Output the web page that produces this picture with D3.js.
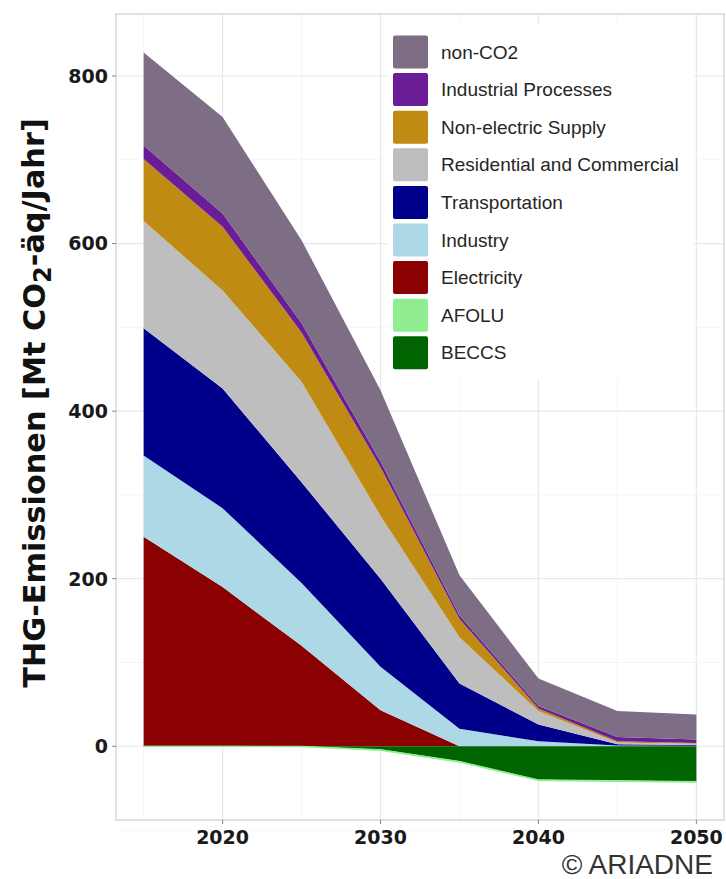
<!DOCTYPE html>
<html lang="de">
<head>
<meta charset="UTF-8">
<title>THG-Emissionen</title>
<script src="https://cdn.jsdelivr.net/npm/d3@7"></script>
<style>
  body { margin: 0; background: #fff; }
  .tick-label { font-family: 'DejaVu Sans', Verdana, sans-serif; font-weight: bold; font-size: 19px; fill: #1a1a1a; }
  .legend text { font-family: 'Liberation Sans', Arial, sans-serif; font-size: 19px; fill: #262626; }
</style>
</head>
<body>
<script>
const years = [2015, 2020, 2025, 2030, 2035, 2040, 2045, 2050];

// Mt CO2-eq per year
const electricity         = [250, 190, 120, 43, 0, 0, 0, 0];
const industry            = [97, 94, 75, 52, 21, 6, 1, 0.5];
const transportation      = [152, 143, 120, 105, 54, 20, 1.5, 1];
const residential         = [128, 117, 120, 75, 55, 16, 2, 1.5];
const nonElectricSupply   = [74, 76, 59, 58, 22, 3, 1.5, 1];
const industrialProcesses = [16, 16, 11, 7, 4, 3, 5, 4];
const nonCO2              = [111, 115, 99, 85, 48, 33, 31, 30];
const afolu               = [0, 0, -0.5, -1, -1, -1, -1, -1];
const beccs               = [0, 0, 0, -4, -18, -40, -41, -42];

const legendLabels = ["non-CO2", "Industrial Processes", "Non-electric Supply",
  "Residential and Commercial", "Transportation", "Industry", "Electricity", "AFOLU", "BECCS"];
const yTicks = [0, 200, 400, 600, 800];
const xTicks = [2020, 2030, 2040, 2050];

const colors = {
  "non-CO2": "#7d6e86",
  "Industrial Processes": "#6a1d97",
  "Non-electric Supply": "#c08b12",
  "Residential and Commercial": "#bebebe",
  "Transportation": "#00008b",
  "Industry": "#add8e6",
  "Electricity": "#8b0000",
  "AFOLU": "#90ee90",
  "BECCS": "#006400"
};

const seriesValues = {
  "Electricity": electricity,
  "Industry": industry,
  "Transportation": transportation,
  "Residential and Commercial": residential,
  "Non-electric Supply": nonElectricSupply,
  "Industrial Processes": industrialProcesses,
  "non-CO2": nonCO2,
  "BECCS": beccs,
  "AFOLU": afolu
};
// bottom-up stacking order (negatives: first key sits next to zero)
const stackKeys = ["Electricity", "Industry", "Transportation", "Residential and Commercial",
  "Non-electric Supply", "Industrial Processes", "non-CO2", "BECCS", "AFOLU"];

const table = years.map((yr, i) => {
  const row = {year: yr};
  stackKeys.forEach(k => row[k] = seriesValues[k][i]);
  return row;
});

const width = 726, height = 879;
const panel = {left: 116, right: 724, top: 14, bottom: 820};

const svg = d3.select("body").append("svg")
  .attr("width", width).attr("height", height);

svg.append("rect").attr("width", width).attr("height", height).attr("fill", "#fff");

const x = d3.scaleLinear().domain([2013.25, 2051.75]).range([panel.left, panel.right]);
const y = d3.scaleLinear().domain([-88, 874]).range([panel.bottom, panel.top]);

// grid
const grid = svg.append("g");
grid.selectAll(".gx").data(d3.range(2015, 2051, 5)).enter().append("line")
  .attr("x1", d => x(d)).attr("x2", d => x(d))
  .attr("y1", panel.top).attr("y2", panel.bottom)
  .attr("stroke", d => d % 10 === 0 ? "#e8e8e8" : "#f2f2f2").attr("stroke-width", d => d % 10 === 0 ? 1.2 : 0.8);
grid.selectAll(".gy").data(d3.range(-100, 801, 100)).enter().append("line")
  .attr("x1", panel.left).attr("x2", panel.right)
  .attr("y1", d => y(d)).attr("y2", d => y(d))
  .attr("stroke", d => d % 200 === 0 ? "#e8e8e8" : "#f2f2f2").attr("stroke-width", d => d % 200 === 0 ? 1.2 : 0.8);

// areas
const stacked = d3.stack().keys(stackKeys).offset(d3.stackOffsetDiverging)(table);
const area = d3.area()
  .x(d => x(d.data.year))
  .y0(d => y(d[0]))
  .y1(d => y(d[1]));

svg.append("g").selectAll("path").data(stacked).enter().append("path")
  .attr("d", area)
  .attr("fill", d => colors[d.key])
  .attr("stroke", d => d.key === "AFOLU" ? colors.AFOLU : "none")
  .attr("stroke-width", 1);

// legend
const legend = svg.append("g").attr("class", "legend");
legend.append("rect").attr("x", 388).attr("y", 24).attr("width", 306).attr("height", 356).attr("fill", "#fff");
const rows = legend.selectAll("g").data(legendLabels).enter().append("g")
  .attr("transform", (d, i) => `translate(393,${52 + i * 37.6})`);
rows.append("rect").attr("x", 0).attr("y", -16.5).attr("width", 35).attr("height", 33)
  .attr("rx", 2).attr("fill", d => colors[d]);
rows.append("text").attr("x", 48).attr("y", 0).attr("dy", "0.35em").text(d => d);

// panel border
svg.append("rect").attr("x", panel.left).attr("y", panel.top)
  .attr("width", panel.right - panel.left).attr("height", panel.bottom - panel.top)
  .attr("fill", "none").attr("stroke", "#cfcfcf").attr("stroke-width", 1.2);

// axes
const yAxis = svg.append("g");
yAxis.selectAll("line").data(yTicks).enter().append("line")
  .attr("x1", panel.left - 4).attr("x2", panel.left)
  .attr("y1", d => y(d)).attr("y2", d => y(d)).attr("stroke", "#888");
yAxis.selectAll("text").data(yTicks).enter().append("text")
  .attr("class", "tick-label").attr("x", panel.left - 8).attr("y", d => y(d))
  .attr("dy", "0.36em").attr("text-anchor", "end").text(d => d);

const xAxis = svg.append("g");
xAxis.selectAll("line").data(xTicks).enter().append("line")
  .attr("x1", d => x(d)).attr("x2", d => x(d))
  .attr("y1", panel.bottom).attr("y2", panel.bottom + 4).attr("stroke", "#888");
xAxis.selectAll("text").data(xTicks).enter().append("text")
  .attr("class", "tick-label").attr("x", d => x(d)).attr("y", panel.bottom + 17)
  .attr("dy", "0.36em").attr("text-anchor", "middle").text(d => d);

// y title
const title = svg.append("text")
  .attr("transform", "translate(45,403) rotate(-90)")
  .attr("text-anchor", "middle")
  .style("font-family", "'DejaVu Sans', Verdana, sans-serif")
  .style("font-weight", "bold").style("font-size", "28px").attr("fill", "#111");
title.append("tspan").text("THG-Emissionen [Mt CO");
title.append("tspan").attr("dy", "0.25em").style("font-size", "24px").text("2");
title.append("tspan").attr("dy", "-0.22em").text("-äq/Jahr]");
const len = title.node().getComputedTextLength();
title.style("font-size", (28 * 571 / len) + "px");

// credit
svg.append("text").attr("x", 713).attr("y", 874).attr("text-anchor", "end")
  .style("font-family", "'Liberation Sans', Arial, sans-serif").style("font-size", "28px")
  .attr("fill", "#333").text("© ARIADNE");
</script>
</body>
</html>
